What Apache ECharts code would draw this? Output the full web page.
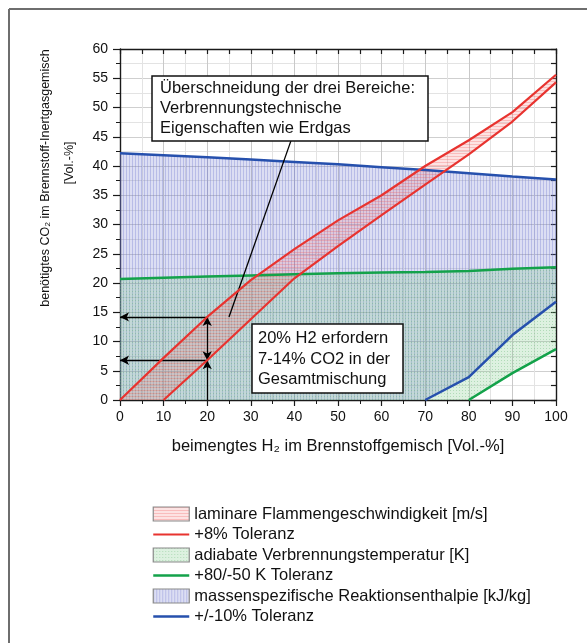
<!DOCTYPE html>
<html>
<head>
<meta charset="utf-8">
<script src="https://cdn.jsdelivr.net/npm/echarts@6/dist/echarts.min.js"></script>
<style>
  html, body { margin: 0; padding: 0; background: #fff; }
  #chart { width: 587px; height: 643px; }
</style>
</head>
<body>
<div id="chart"></div>
<script>
// ---- data ----
const h2Share = [0, 10, 20, 30, 40, 50, 60, 70, 80, 90, 100];
const flameUpper = [0, 7.2, 14.2, 20.5, 25.8, 30.7, 35.0, 40.0, 44.4, 49.2, 55.6];
const flameLower = [0, 0, 6.8, 13.8, 20.8, 26.3, 31.6, 36.8, 42.0, 47.6, 54.3];
const flameLowerStart = 10;
const tempUpper = [20.7, 20.9, 21.1, 21.3, 21.5, 21.65, 21.8, 21.9, 22.05, 22.45, 22.7];
const tempLower = [0, 0, 0, 0, 0, 0, 0, 0, 0, 4.6, 8.7];
const tempLowerStart = 80;
const enthUpper = [42.2, 41.85, 41.5, 41.1, 40.7, 40.3, 39.8, 39.3, 38.75, 38.2, 37.7];
const enthLower = [0, 0, 0, 0, 0, 0, 0, 0, 3.9, 11.1, 16.8];
const enthLowerStart = 70;
// annotation: 20% H2 -> 7..14% CO2
const exampleH2 = 20;
const exampleCO2 = [6.8, 14.2];
const leaderFrom = [39.2, 44.3];
const leaderTo = [25, 14.2];

const names = {
  flame: 'laminare Flammengeschwindigkeit [m/s]',
  flameTol: '+8% Toleranz',
  temp: 'adiabate Verbrennungstemperatur [K]',
  tempTol: '+80/-50 K Toleranz',
  enth: 'massenspezifische Reaktionsenthalpie [kJ/kg]',
  enthTol: '+/-10% Toleranz'
};

const FONT = '"Liberation Sans", Arial, Helvetica, sans-serif';

function pairs(xs, ys, fromX) {
  const out = [];
  xs.forEach((x, i) => { if (fromX === undefined || x >= fromX) out.push([x, ys[i]]); });
  return out;
}

// subtle hatch patterns imitating the print texture
function makePattern(bg, fg, kind) {
  const c = document.createElement('canvas');
  c.width = 3; c.height = 3;
  const g = c.getContext('2d');
  g.fillStyle = bg; g.fillRect(0, 0, 3, 3);
  g.fillStyle = fg;
  if (kind === 'v') g.fillRect(0, 0, 1, 3);
  else if (kind === 'h') g.fillRect(0, 0, 3, 1);
  else g.fillRect(0, 0, 1, 1);
  return { image: c, repeat: 'repeat' };
}
const fillBlue = makePattern('rgba(110,118,205,0.24)', 'rgba(110,118,205,0.33)', 'v');
const fillGreen = makePattern('rgba(120,200,130,0.25)', 'rgba(100,180,115,0.36)', 'd');
const fillRed = makePattern('rgba(245,105,105,0.19)', 'rgba(240,90,90,0.27)', 'h');

const colRed = '#e8332f', colGreen = '#13a24a', colBlue = '#2650ad';

function band(name, xs, up, lo, fill) {
  return {
    name: name, type: 'custom', silent: true, z: 1, clip: true,
    data: pairs(xs, up), encode: { x: 0, y: 1 },
    renderItem: function (params, api) {
      if (params.dataIndex !== 0) return null;
      const pts = [];
      xs.forEach((x, i) => pts.push(api.coord([x, up[i]])));
      for (let i = xs.length - 1; i >= 0; i--) pts.push(api.coord([xs[i], lo[i]]));
      return { type: 'polygon', shape: { points: pts }, style: { fill: fill } };
    }
  };
}
function line(name, data, color, width, z) {
  return { name: name, type: 'line', data: data, symbol: 'none', showSymbol: false, silent: true,
    lineStyle: { color: color, width: width }, itemStyle: { color: color }, z: z };
}

const arrowStyle = { color: '#000', width: 1.3, type: 'solid' };

const series = [
  band(names.enth, h2Share, enthUpper, enthLower, fillBlue),
  band(names.temp, h2Share, tempUpper, tempLower, fillGreen),
  band(names.flame, h2Share, flameUpper, flameLower, fillRed),
  line(names.enthTol, pairs(h2Share, enthUpper), colBlue, 2.5, 3),
  line(names.enthTol, pairs(h2Share, enthLower, enthLowerStart), colBlue, 2.5, 3),
  line(names.tempTol, pairs(h2Share, tempUpper), colGreen, 2.5, 4),
  line(names.tempTol, pairs(h2Share, tempLower, tempLowerStart), colGreen, 2.5, 4),
  line(names.flameTol, pairs(h2Share, flameUpper), colRed, 2.2, 5),
  line(names.flameTol, pairs(h2Share, flameLower, flameLowerStart), colRed, 2.2, 5),
  {
    type: 'line', data: [], silent: true, z: 6,
    markLine: {
      silent: true, animation: false,
      label: { show: false },
      lineStyle: arrowStyle,
      symbolSize: [7, 9],
      data: [
        [{ coord: [exampleH2, exampleCO2[1]], symbol: 'none' }, { coord: [0, exampleCO2[1]], symbol: 'arrow' }],
        [{ coord: [exampleH2, exampleCO2[0]], symbol: 'none' }, { coord: [0, exampleCO2[0]], symbol: 'arrow' }],
        [{ coord: [exampleH2, exampleCO2[0]], symbol: 'arrow' }, { coord: [exampleH2, exampleCO2[1]], symbol: 'arrow' }],
        [{ coord: [exampleH2, 0], symbol: 'none' }, { coord: [exampleH2, exampleCO2[0]], symbol: 'arrow' }],
        [{ coord: leaderFrom, symbol: 'none' }, { coord: leaderTo, symbol: 'none' }]
      ]
    }
  }
];

const chart = echarts.init(document.getElementById('chart'), null, { renderer: 'canvas' });

const axisLineStyle = { color: '#1a1a1a', width: 1.4 };
const hideSym = { opacity: 0 };

chart.setOption({
  animation: false,
  backgroundColor: '#fff',
  textStyle: { fontFamily: FONT },
  grid: { left: 120, right: 31, top: 49, bottom: 243, containLabel: false },
  xAxis: [
    {
      type: 'value', min: 0, max: 100, interval: 10, position: 'bottom',
      name: 'beimengtes H₂ im Brennstoffgemisch [Vol.-%]',
      nameLocation: 'middle', nameGap: 38,
      nameTextStyle: { fontSize: 16.5, color: '#111', fontFamily: FONT },
      axisLine: { onZero: false, lineStyle: axisLineStyle },
      axisTick: { inside: false, length: 6, lineStyle: { color: '#1a1a1a', width: 1.2 } },
      minorTick: { show: true, splitNumber: 2, length: 4, lineStyle: { color: '#1a1a1a', width: 1 } },
      axisLabel: { fontSize: 14, color: '#111', margin: 10, fontFamily: FONT },
      splitLine: { show: true, lineStyle: { color: '#c9c9c9', width: 1 } },
      minorSplitLine: { show: true, lineStyle: { color: '#e3e3e3', width: 1 } }
    },
    {
      type: 'value', min: 0, max: 100, interval: 5, position: 'top',
      axisLine: { onZero: false, lineStyle: axisLineStyle },
      axisTick: { inside: true, length: 5, lineStyle: { color: '#1a1a1a', width: 1.2 } },
      axisLabel: { show: false }, splitLine: { show: false }
    }
  ],
  yAxis: [
    {
      type: 'value', min: 0, max: 60, interval: 5, position: 'left',
      axisLine: { show: true, onZero: false, lineStyle: axisLineStyle },
      axisTick: { show: true, inside: false, length: 7, lineStyle: { color: '#1a1a1a', width: 1.2 } },
      minorTick: { show: true, splitNumber: 2, length: 4, lineStyle: { color: '#1a1a1a', width: 1 } },
      axisLabel: { fontSize: 14, color: '#111', margin: 12, fontFamily: FONT },
      splitLine: { show: true, lineStyle: { color: '#cfcfcf', width: 1 } },
      minorSplitLine: { show: true, lineStyle: { color: '#e3e3e3', width: 1 } }
    },
    {
      type: 'value', min: 0, max: 60, interval: 2.5, position: 'right',
      axisLine: { show: true, onZero: false, lineStyle: axisLineStyle },
      axisTick: { show: true, inside: true, length: 5, lineStyle: { color: '#1a1a1a', width: 1.2 } },
      axisLabel: { show: false }, splitLine: { show: false }
    }
  ],
  legend: {
    orient: 'vertical', left: 147, top: 499,
    itemWidth: 36, itemHeight: 14, itemGap: 0.5,
    selectedMode: false,
    textStyle: { fontSize: 16.5, color: '#111', lineHeight: 20, fontFamily: FONT },
    data: [
      { name: names.flame, icon: 'rect', itemStyle: { color: fillRed, borderColor: '#8a8a8a', borderWidth: 1.2 } },
      { name: names.flameTol, itemStyle: hideSym, lineStyle: { color: colRed, width: 2 } },
      { name: names.temp, icon: 'rect', itemStyle: { color: fillGreen, borderColor: '#8a8a8a', borderWidth: 1.2 } },
      { name: names.tempTol, itemStyle: hideSym, lineStyle: { color: colGreen, width: 2.5 } },
      { name: names.enth, icon: 'rect', itemStyle: { color: fillBlue, borderColor: '#8a8a8a', borderWidth: 1.2 } },
      { name: names.enthTol, itemStyle: hideSym, lineStyle: { color: colBlue, width: 2.5 } }
    ]
  },
  graphic: [
    { type: 'line', z: 100, shape: { x1: 9, y1: 9, x2: 587, y2: 9 }, style: { stroke: '#6e6e6e', lineWidth: 2 } },
    { type: 'line', z: 100, shape: { x1: 9, y1: 9, x2: 9, y2: 643 }, style: { stroke: '#6e6e6e', lineWidth: 2 } },
    { type: 'text', z: 100, x: 46, y: 178, rotation: Math.PI / 2,
      style: { text: 'benötigtes CO₂ im Brennstoff-Inertgasgemisch', font: '12.5px ' + FONT, fill: '#111', align: 'center', verticalAlign: 'middle' } },
    { type: 'text', z: 100, x: 70, y: 163, rotation: Math.PI / 2,
      style: { text: '[Vol.-%]', font: '12.5px ' + FONT, fill: '#111', align: 'center', verticalAlign: 'middle' } },
    { type: 'rect', z: 100, shape: { x: 152, y: 76, width: 276, height: 65 }, style: { fill: '#fff', stroke: '#111', lineWidth: 1.5 } },
    { type: 'text', z: 101, x: 160, y: 108.5,
      style: { text: 'Überschneidung der drei Bereiche:\nVerbrennungstechnische\nEigenschaften wie Erdgas', font: '16.5px ' + FONT, fill: '#111', align: 'left', verticalAlign: 'middle', lineHeight: 20 } },
    { type: 'rect', z: 100, shape: { x: 252, y: 324, width: 151, height: 69 }, style: { fill: '#fff', stroke: '#111', lineWidth: 1.5 } },
    { type: 'text', z: 101, x: 258, y: 359,
      style: { text: '20% H2 erfordern\n7-14% CO2 in der\nGesamtmischung', font: '16.5px ' + FONT, fill: '#111', align: 'left', verticalAlign: 'middle', lineHeight: 20.5 } }
  ],
  series: series
});
</script>
</body>
</html>
